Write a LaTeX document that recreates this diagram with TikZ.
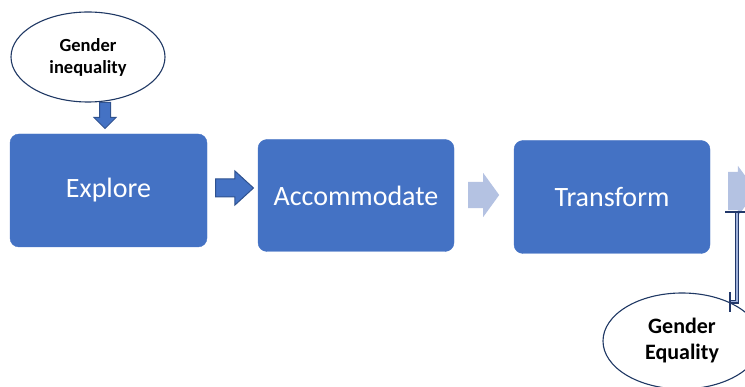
\documentclass[tikz,border=0pt]{standalone}
\usepackage{fontspec}
\setmainfont{Carlito}
\usepackage{xcolor}
\usepackage{tikz}
\usetikzlibrary{arrows.meta,shapes.geometric,shapes.arrows}
\definecolor{stageblue}{HTML}{4472C4}
\definecolor{stageedge}{HTML}{2F528F}
\definecolor{fadedblue}{HTML}{B4C2E2}
\definecolor{goalnavy}{HTML}{1F3864}
\definecolor{linknavy}{HTML}{22386A}
\definecolor{linkfill}{HTML}{9FB1DA}
\tikzset{
  stagebox/.style={rounded corners=9pt, draw=stageblue, fill=stageblue, text=white, align=center, font=\fontsize{28}{32}\selectfont, minimum width=196pt, minimum height=112pt, inner sep=0pt},
  goal/.style={ellipse, draw=goalnavy, fill=white, line width=1.1pt, align=center, inner sep=0pt},
  blockarrow/.style={single arrow, draw=stageedge, fill=stageblue, line width=1pt, inner sep=0pt, anchor=tail},
  fadedarrow/.style={single arrow, draw=none, fill=fadedblue, inner sep=0pt, anchor=tail},
  link/.style={draw=linknavy, line width=1.4pt, double=linkfill, double distance=1.4pt},
  linkbar/.tip={Bar[line width=1.8pt, color=linknavy, sep=0pt]}
}
\begin{document}
\begin{tikzpicture}[x=1pt, y=-1pt]
  \clip (0,0) rectangle (745,387);
  % stages
  \node[stagebox, minimum width=197pt, minimum height=113pt] (explore) at (108.5,190.5) {Explore};
  \node[stagebox] (accommodate) at (356,195.5) {Accommodate};
  \node[stagebox, minimum height=113pt] (transform) at (612,197) {Transform};
  % goals
  \node[goal, minimum width=154pt, minimum height=90pt, font=\bfseries\fontsize{18.5}{22}\selectfont] (inequality) at (88,57) {Gender\\inequality};
  \node[goal, minimum width=158pt, minimum height=96pt, font=\bfseries\fontsize{22}{26}\selectfont] (equality) at (682,341) {Gender\\Equality};
  % block arrows
  \node[blockarrow, rotate=-90, minimum height=26pt, minimum width=22pt, inner ysep=5pt, single arrow head extend=5.5pt, single arrow tip angle=90] (down) at (105,102) {};
  \node[blockarrow, minimum height=38pt, minimum width=33pt, inner ysep=8.5pt, single arrow head extend=8pt, single arrow tip angle=85] (arrA) at (215,188) {};
  \node[fadedarrow, minimum height=31pt, minimum width=44pt, inner ysep=13pt, single arrow head extend=9pt, single arrow tip angle=108] (arrB) at (468,195) {};
  \node[fadedarrow, minimum height=28pt, minimum width=50pt, inner ysep=19pt, single arrow head extend=6pt, single arrow tip angle=108] (arrC) at (728,191) {};
  % connector to the goal
  \coordinate (tick) at (737,211);
  \draw[link, {linkbar[width=24pt]}-{linkbar[width=20pt]}] (tick) |- (equality.40);
\end{tikzpicture}
\end{document}
